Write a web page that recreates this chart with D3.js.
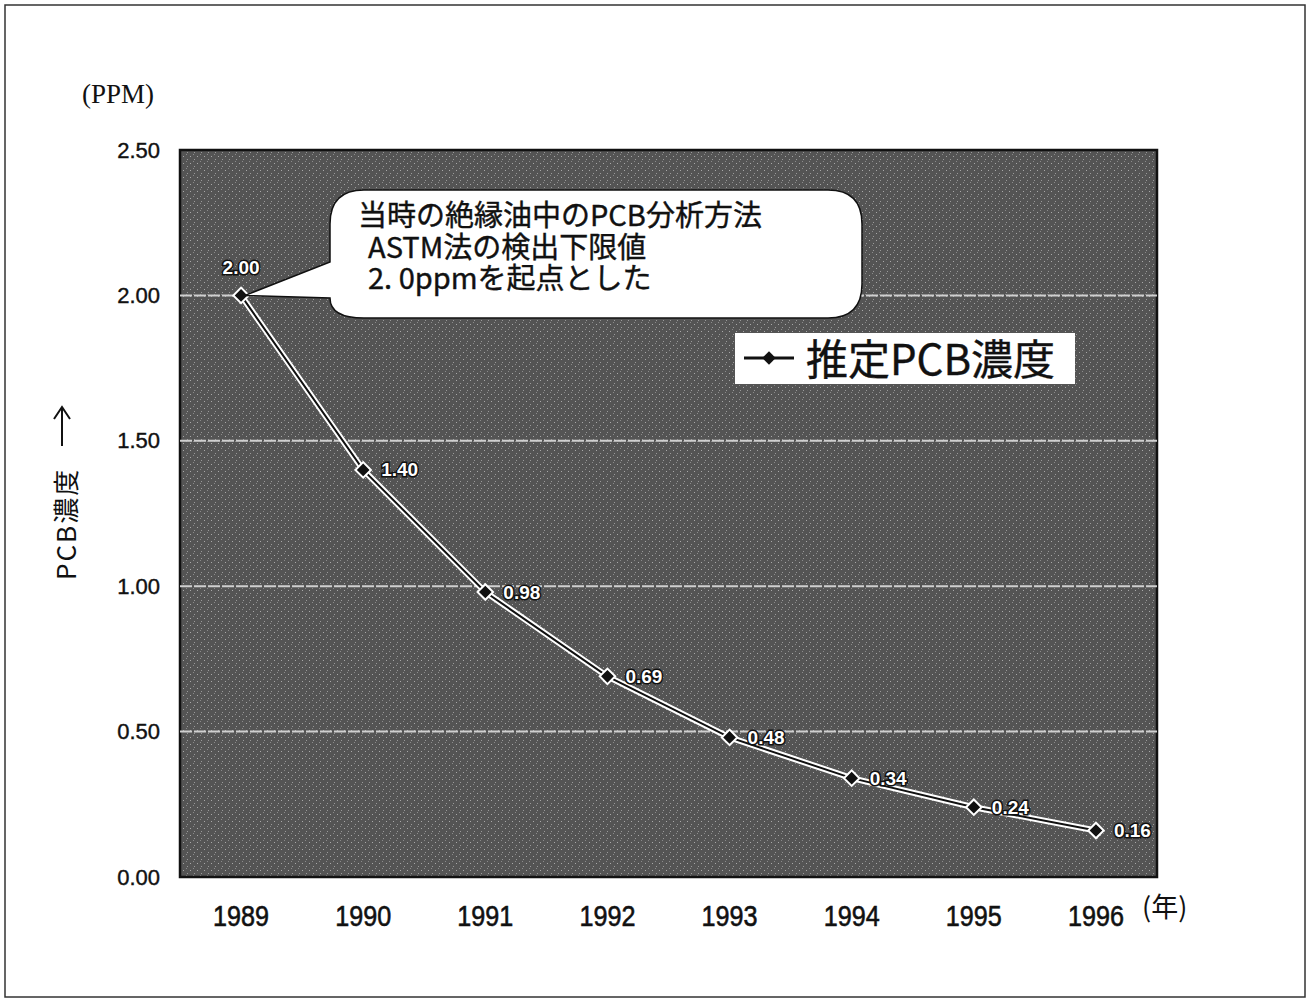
<!DOCTYPE html>
<html>
<head>
<meta charset="utf-8">
<script src="https://cdn.jsdelivr.net/npm/d3@7"></script>
<style>
  body { margin: 0; background: #fff; }
  svg { display: block; }
</style>
</head>
<body>
<div id="chart-area"></div>
<script>
// data
const years = ["1989", "1990", "1991", "1992", "1993", "1994", "1995", "1996"]
const pcbValues = [2.00, 1.40, 0.98, 0.69, 0.48, 0.34, 0.24, 0.16]
const yTickValues = [0, 0.5, 1.0, 1.5, 2.0, 2.5]
const gridValues = [0.5, 1.0, 1.5, 2.0]
const calloutLines = ["当時の絶縁油中のPCB分析方法", "ASTM法の検出下限値", "2. 0ppmを起点とした"]
const seriesName = "推定PCB濃度"

const W = 1314
const H = 999
const PLOT = { LEFT: 180, RIGHT: 1157, TOP: 150, BOTTOM: 877 }
const JP = "'Noto Sans CJK JP', 'Liberation Sans', sans-serif"
const LAT = "'Liberation Sans', Arial, sans-serif"

const svg = d3.select("#chart-area").append("svg")
  .attr("width", W)
  .attr("height", H)

// scanned-look texture for the plot area
const pat = svg.append("defs").append("pattern")
  .attr("id", "scan")
  .attr("width", 7).attr("height", 7)
  .attr("patternUnits", "userSpaceOnUse")
pat.append("rect").attr("width", 7).attr("height", 7).attr("fill", "#545454")
pat.append("rect").attr("x", 1).attr("y", 2).attr("width", 1).attr("height", 1).attr("fill", "#a8a8a8")
pat.append("rect").attr("x", 5).attr("y", 5).attr("width", 1).attr("height", 1).attr("fill", "#9a9a9a")
pat.append("rect").attr("x", 4).attr("y", 0).attr("width", 1).attr("height", 1).attr("fill", "#8a8a8a")

// outer frame
svg.append("rect")
  .attr("x", 5).attr("y", 5)
  .attr("width", 1300).attr("height", 992)
  .attr("fill", "none")
  .attr("stroke", "#333")
  .attr("stroke-width", 1.5)

// scales
const x = d3.scaleBand()
  .domain(years)
  .range([PLOT.LEFT, PLOT.RIGHT])
const y = d3.scaleLinear()
  .domain([0, 2.5])
  .range([PLOT.BOTTOM, PLOT.TOP])
const cx = d => x(d) + x.bandwidth() / 2

// plot area
svg.append("rect")
  .attr("x", PLOT.LEFT).attr("y", PLOT.TOP)
  .attr("width", PLOT.RIGHT - PLOT.LEFT)
  .attr("height", PLOT.BOTTOM - PLOT.TOP)
  .attr("fill", "url(#scan)")
  .attr("stroke", "#111")
  .attr("stroke-width", 2.5)

// gridlines
svg.append("g").selectAll("line")
  .data(gridValues)
  .enter().append("line")
  .attr("x1", PLOT.LEFT).attr("x2", PLOT.RIGHT)
  .attr("y1", d => y(d)).attr("y2", d => y(d))
  .attr("stroke", "#cfcfcf")
  .attr("stroke-width", 2)
  .attr("stroke-dasharray", "12,2")

// Y axis
const yAxisCall = d3.axisLeft(y)
  .tickValues(yTickValues)
  .tickFormat(d3.format(".2f"))
  .tickSize(0)
  .tickPadding(20)
const yAxis = svg.append("g")
  .attr("transform", `translate(${PLOT.LEFT}, 0)`)
  .call(yAxisCall)
yAxis.select(".domain").remove()
yAxis.selectAll("text")
  .attr("font-family", LAT)
  .attr("font-size", "22px")
  .attr("fill", "#111")
  .attr("stroke", "#111")
  .attr("stroke-width", 0.4)

// X axis
const xAxisCall = d3.axisBottom(x).tickSize(0).tickPadding(28)
const xAxis = svg.append("g")
  .attr("transform", `translate(0, ${PLOT.BOTTOM})`)
  .call(xAxisCall)
xAxis.select(".domain").remove()
xAxis.selectAll("text")
  .attr("font-family", LAT)
  .attr("font-size", "29px")
  .attr("fill", "#111")
  .attr("stroke", "#111")
  .attr("stroke-width", 0.6)
  .attr("textLength", 56)
  .attr("lengthAdjust", "spacingAndGlyphs")

// axis titles
svg.append("text")
  .attr("x", 82).attr("y", 103)
  .attr("font-family", "'Liberation Serif', 'DejaVu Serif', serif")
  .attr("font-size", "27px")
  .attr("fill", "#111")
  .text("(PPM)")

svg.append("text")
  .attr("x", 1142).attr("y", 917)
  .attr("font-family", JP)
  .attr("font-size", "27px")
  .attr("fill", "#111")
  .text("(年)")

svg.append("text")
  .attr("transform", "translate(64, 580) rotate(-90)")
  .attr("dominant-baseline", "central")
  .attr("font-family", JP)
  .attr("font-size", "26px")
  .attr("letter-spacing", "2px")
  .attr("fill", "#111")
  .text("PCB濃度")

// arrow after the title
svg.append("path")
  .attr("d", "M62,446 V408 M54,419 L62,407 L70,419")
  .attr("fill", "none")
  .attr("stroke", "#111")
  .attr("stroke-width", 2)

// series line: white halo with dark core
const line = d3.line()
  .x((d, i) => cx(years[i]))
  .y(d => y(d))
svg.append("path")
  .datum(pcbValues)
  .attr("d", line)
  .attr("fill", "none")
  .attr("stroke", "#fff")
  .attr("stroke-width", 6)
svg.append("path")
  .datum(pcbValues)
  .attr("d", line)
  .attr("fill", "none")
  .attr("stroke", "#111")
  .attr("stroke-width", 2)

// markers
const diamond = d3.symbol().type(d3.symbolSquare).size(120)
svg.append("g").selectAll("path")
  .data(pcbValues)
  .enter().append("path")
  .attr("d", diamond)
  .attr("transform", (d, i) => `translate(${cx(years[i])}, ${y(d)}) rotate(45)`)
  .attr("fill", "#111")
  .attr("stroke", "#fff")
  .attr("stroke-width", 2)

// data labels
svg.append("g").selectAll("text")
  .data(pcbValues)
  .enter().append("text")
  .attr("x", (d, i) => i === 0 ? cx(years[i]) : cx(years[i]) + 18)
  .attr("y", (d, i) => i === 0 ? y(d) - 28 : y(d))
  .attr("text-anchor", (d, i) => i === 0 ? "middle" : "start")
  .attr("dominant-baseline", "central")
  .attr("font-family", LAT)
  .attr("font-size", "19px")
  .attr("font-weight", "bold")
  .attr("fill", "#fff")
  .attr("stroke", "#111")
  .attr("stroke-width", 3)
  .attr("paint-order", "stroke")
  .text(d => d3.format(".2f")(d))

// callout bubble pointing at the first point
function drawCallout() {
  const tx = cx(years[0])
  const ty = y(pcbValues[0])
  const L = 330, R = 862, T = 190, B = 318, r = 34
  const d = `M${L + r},${T} H${R - r} Q${R},${T} ${R},${T + r} V${B - r} Q${R},${B} ${R - r},${B}`
    + ` H${L + r} Q${L},${B} ${L},${B - 20} L${tx + 4},${ty} L${L},${T + 72} V${T + r} Q${L},${T} ${L + r},${T} Z`
  const callout = svg.append("g")
  callout.append("path")
    .attr("d", d)
    .attr("fill", "#fff")
    .attr("stroke", "#111")
    .attr("stroke-width", 1.5)
  callout.append("text")
    .attr("font-family", JP)
    .attr("font-size", "29px")
    .attr("fill", "#111")
    .attr("stroke", "#111")
    .attr("stroke-width", 0.4)
    .selectAll("tspan")
    .data(calloutLines)
    .enter().append("tspan")
    .attr("x", (t, i) => i === 0 ? 358 : 368)
    .attr("y", (t, i) => 226 + i * 31.5)
    .text(t => t)
}
drawCallout()

// legend
const legend = svg.append("g")
legend.append("rect")
  .attr("x", 735).attr("y", 333)
  .attr("width", 340).attr("height", 51)
  .attr("fill", "#fff")
legend.append("line")
  .attr("x1", 744).attr("x2", 794)
  .attr("y1", 358).attr("y2", 358)
  .attr("stroke", "#111")
  .attr("stroke-width", 3)
legend.append("path")
  .attr("d", d3.symbol().type(d3.symbolSquare).size(90))
  .attr("transform", "translate(769, 358) rotate(45)")
  .attr("fill", "#111")
legend.append("text")
  .attr("x", 806).attr("y", 375)
  .attr("font-family", JP)
  .attr("font-size", "42px")
  .attr("fill", "#111")
  .attr("stroke", "#111")
  .attr("stroke-width", 0.4)
  .text(seriesName)
</script>
</body>
</html>
